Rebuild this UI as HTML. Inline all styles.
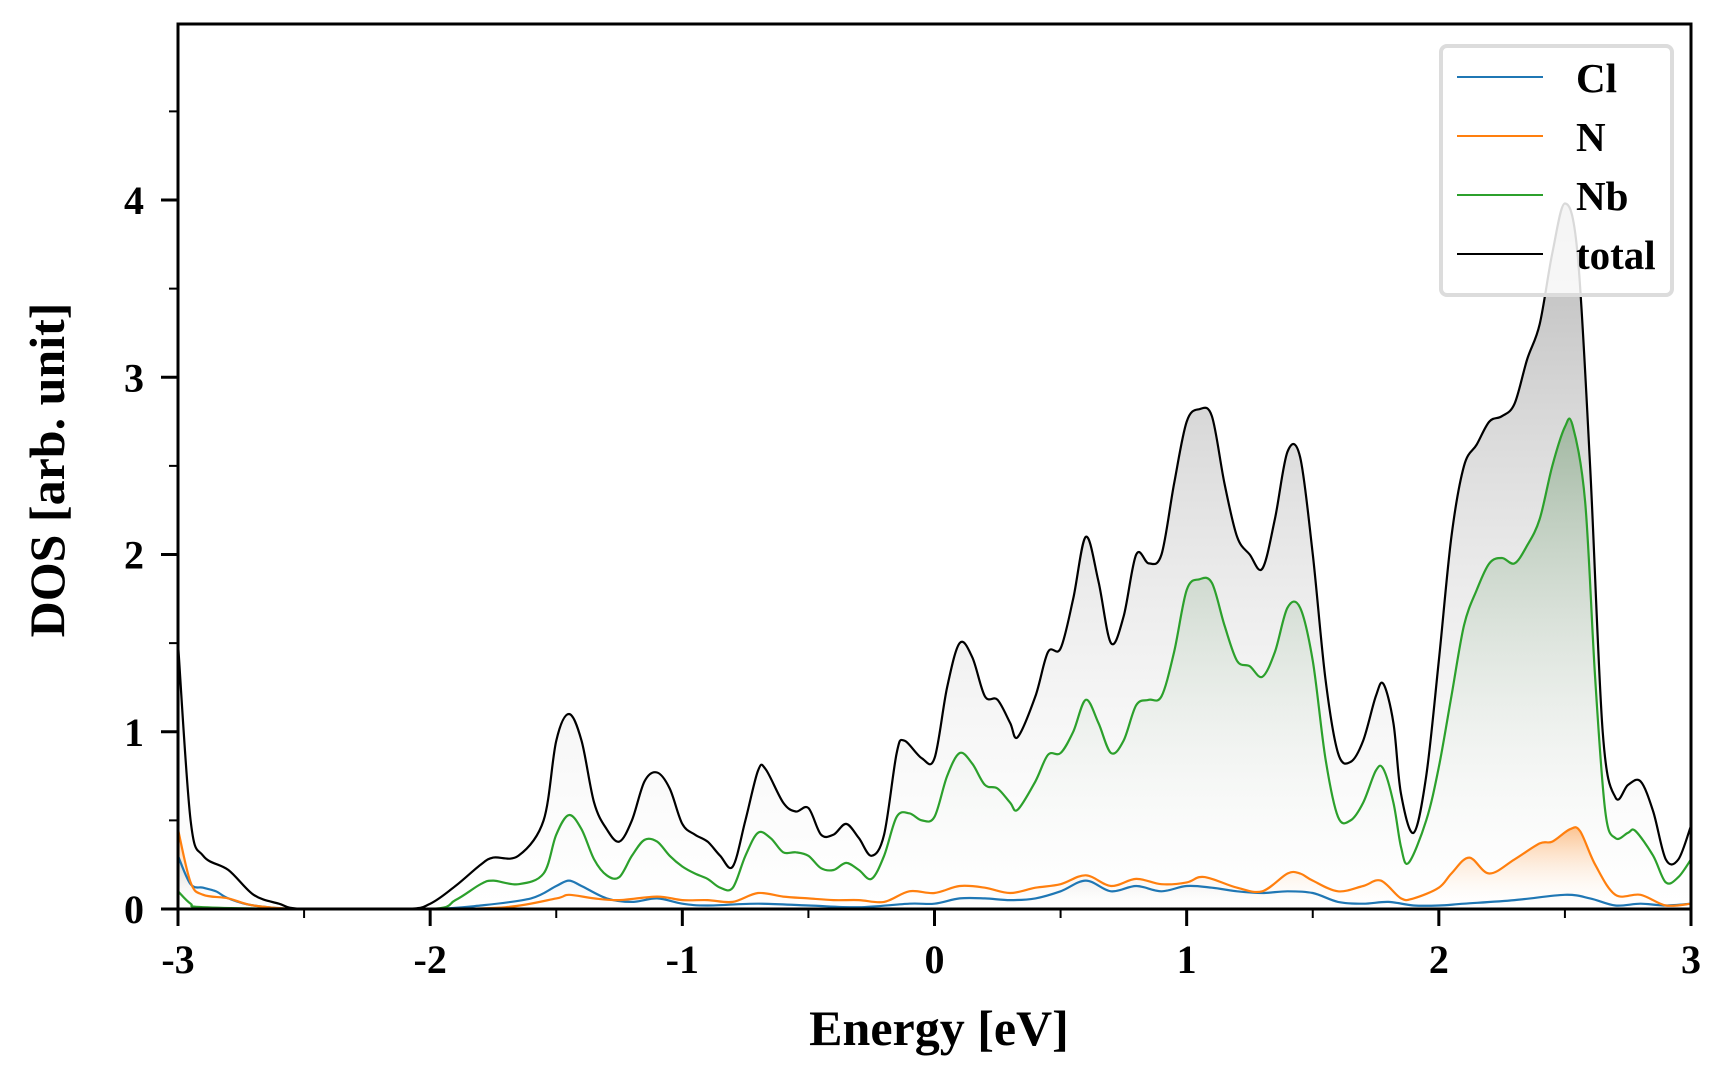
<!DOCTYPE html>
<html><head><meta charset="utf-8"><style>
html,body{margin:0;padding:0;background:#fff;}
svg text{font-family:"Liberation Serif",serif;font-weight:bold;fill:#000;}
</style></head><body>
<svg id="chart" width="1728" height="1080" xmlns="http://www.w3.org/2000/svg">
<defs>
<linearGradient id="gTot" x1="0" y1="0" x2="0" y2="1"><stop offset="0" stop-color="#a0a0a0" stop-opacity="0.75"/><stop offset="1" stop-color="#ffffff" stop-opacity="0.2"/></linearGradient>
<linearGradient id="gNb" x1="0" y1="0" x2="0" y2="1"><stop offset="0" stop-color="#3a7a3a" stop-opacity="0.35"/><stop offset="1" stop-color="#ffffff" stop-opacity="0"/></linearGradient>
<linearGradient id="gN" x1="0" y1="0" x2="0" y2="1"><stop offset="0" stop-color="#ff7f0e" stop-opacity="0.45"/><stop offset="1" stop-color="#ffffff" stop-opacity="0"/></linearGradient>
<linearGradient id="gCl" x1="0" y1="0" x2="0" y2="1"><stop offset="0" stop-color="#1f77b4" stop-opacity="0.2"/><stop offset="1" stop-color="#ffffff" stop-opacity="0"/></linearGradient>
<clipPath id="clip"><rect x="178" y="24" width="1514" height="886"/></clipPath>
</defs>
<g id="fills" clip-path="url(#clip)"></g>
<g id="lines" clip-path="url(#clip)"></g>
<g id="axes"></g>
<g id="legend">
<rect x="1441" y="46" width="231" height="249" rx="6" fill="#fff" fill-opacity="0.85" stroke="#dcdcdc" stroke-width="4"/>
<g><line x1="1457" y1="77" x2="1543" y2="77" stroke="#1f77b4" stroke-width="2"/><text x="1576" y="92" font-size="41">Cl</text></g>
<g><line x1="1457" y1="136" x2="1543" y2="136" stroke="#ff7f0e" stroke-width="2"/><text x="1576" y="151" font-size="41">N</text></g>
<g><line x1="1457" y1="195" x2="1543" y2="195" stroke="#2ca02c" stroke-width="2"/><text x="1576" y="210" font-size="41">Nb</text></g>
<g><line x1="1457" y1="254" x2="1543" y2="254" stroke="#000" stroke-width="2"/><text x="1576" y="269" font-size="41">total</text></g>
</g>
<text x="939" y="1045" font-size="50" text-anchor="middle">Energy [eV]</text>
<text transform="translate(64,470) rotate(-90)" font-size="50" text-anchor="middle">DOS [arb. unit]</text>
</svg>
<script>
const xTicks=[-3,-2,-1,0,1,2,3];
const xTickLabels=["-3","-2","-1","0","1","2","3"];
const yTicks=[0,1,2,3,4];
const yTickLabels=["0","1","2","3","4"];
const totalE=[-3,-2.95,-2.9,-2.8,-2.7,-2.6,-2.5,-2.1,-2.0,-1.9,-1.8,-1.75,-1.65,-1.55,-1.5,-1.45,-1.4,-1.35,-1.3,-1.25,-1.2,-1.15,-1.1,-1.05,-1.0,-0.95,-0.9,-0.85,-0.8,-0.75,-0.7,-0.67,-0.6,-0.55,-0.5,-0.45,-0.4,-0.35,-0.3,-0.25,-0.2,-0.15,-0.12,-0.05,0,0.05,0.1,0.15,0.2,0.25,0.3,0.33,0.4,0.45,0.5,0.55,0.6,0.65,0.7,0.75,0.8,0.85,0.9,0.95,1.0,1.05,1.1,1.15,1.2,1.25,1.3,1.35,1.4,1.45,1.5,1.55,1.6,1.65,1.7,1.75,1.78,1.82,1.85,1.9,1.95,2.0,2.05,2.1,2.15,2.2,2.25,2.3,2.35,2.4,2.45,2.5,2.55,2.6,2.65,2.7,2.75,2.8,2.85,2.9,2.95,3.0];
const totalV=[1.5,0.5,0.3,0.22,0.08,0.03,0,0,0.03,0.13,0.25,0.29,0.3,0.5,0.95,1.1,0.95,0.6,0.45,0.38,0.5,0.72,0.77,0.68,0.48,0.42,0.38,0.3,0.24,0.5,0.78,0.79,0.6,0.55,0.57,0.42,0.42,0.48,0.4,0.3,0.42,0.88,0.95,0.85,0.85,1.25,1.5,1.42,1.2,1.18,1.05,0.97,1.2,1.45,1.47,1.75,2.1,1.85,1.5,1.65,2.0,1.95,2.0,2.4,2.75,2.82,2.78,2.4,2.1,2.0,1.92,2.2,2.58,2.55,2.0,1.3,0.88,0.83,0.95,1.2,1.27,1.05,0.65,0.43,0.75,1.4,2.1,2.5,2.62,2.75,2.78,2.85,3.1,3.3,3.7,3.98,3.7,2.5,1.0,0.63,0.7,0.72,0.55,0.28,0.28,0.47];
const nbE=[-3,-2.95,-2.9,-2.5,-2.0,-1.9,-1.8,-1.75,-1.65,-1.55,-1.5,-1.45,-1.4,-1.35,-1.3,-1.25,-1.2,-1.15,-1.1,-1.05,-1.0,-0.95,-0.9,-0.85,-0.8,-0.75,-0.7,-0.65,-0.6,-0.55,-0.5,-0.45,-0.4,-0.35,-0.3,-0.25,-0.2,-0.15,-0.1,-0.05,0,0.05,0.1,0.15,0.2,0.25,0.3,0.33,0.4,0.45,0.5,0.55,0.6,0.65,0.7,0.75,0.8,0.85,0.9,0.95,1.0,1.05,1.1,1.15,1.2,1.25,1.3,1.35,1.4,1.45,1.5,1.55,1.6,1.65,1.7,1.75,1.78,1.82,1.85,1.88,1.95,2.0,2.05,2.1,2.15,2.2,2.25,2.3,2.35,2.4,2.45,2.5,2.53,2.58,2.62,2.66,2.7,2.75,2.78,2.85,2.9,2.95,3.0];
const nbV=[0.1,0.03,0.01,0,0,0.05,0.14,0.16,0.14,0.2,0.42,0.53,0.45,0.28,0.19,0.18,0.3,0.39,0.38,0.3,0.24,0.2,0.17,0.12,0.12,0.3,0.43,0.4,0.32,0.32,0.3,0.23,0.22,0.26,0.22,0.17,0.3,0.52,0.54,0.5,0.52,0.75,0.88,0.82,0.7,0.68,0.6,0.56,0.72,0.87,0.88,1.0,1.18,1.05,0.88,0.95,1.15,1.18,1.2,1.45,1.8,1.86,1.84,1.6,1.4,1.37,1.31,1.45,1.7,1.7,1.4,0.85,0.52,0.5,0.6,0.78,0.79,0.6,0.35,0.26,0.5,0.8,1.2,1.6,1.8,1.95,1.98,1.95,2.05,2.2,2.5,2.72,2.73,2.3,1.3,0.55,0.4,0.43,0.44,0.3,0.15,0.18,0.28];
const nE=[-3,-2.95,-2.9,-2.8,-2.7,-2.5,-2.0,-1.7,-1.5,-1.45,-1.35,-1.25,-1.1,-1.0,-0.9,-0.8,-0.7,-0.6,-0.5,-0.4,-0.3,-0.2,-0.1,0,0.1,0.2,0.3,0.4,0.5,0.6,0.7,0.8,0.9,1.0,1.05,1.1,1.2,1.3,1.4,1.45,1.5,1.6,1.7,1.77,1.85,1.9,2.0,2.05,2.12,2.2,2.3,2.4,2.45,2.52,2.56,2.62,2.7,2.8,2.9,3.0];
const nV=[0.45,0.15,0.08,0.06,0.02,0,0,0.01,0.06,0.08,0.06,0.05,0.07,0.05,0.05,0.04,0.09,0.07,0.06,0.05,0.05,0.04,0.1,0.09,0.13,0.12,0.09,0.12,0.14,0.19,0.13,0.17,0.14,0.15,0.18,0.17,0.12,0.1,0.2,0.2,0.16,0.1,0.13,0.16,0.06,0.06,0.12,0.2,0.29,0.2,0.28,0.37,0.38,0.45,0.44,0.25,0.08,0.08,0.02,0.03];
const clE=[-3,-2.95,-2.9,-2.85,-2.8,-2.7,-2.5,-2.0,-1.8,-1.6,-1.5,-1.45,-1.4,-1.3,-1.2,-1.1,-1.0,-0.9,-0.7,-0.5,-0.3,-0.1,0,0.1,0.2,0.3,0.4,0.5,0.6,0.7,0.8,0.9,1.0,1.1,1.2,1.3,1.4,1.5,1.6,1.7,1.8,1.9,2.0,2.1,2.3,2.5,2.6,2.7,2.8,2.9,3.0];
const clV=[0.3,0.14,0.12,0.1,0.06,0.02,0,0,0.02,0.06,0.13,0.16,0.13,0.06,0.04,0.06,0.03,0.02,0.03,0.02,0.01,0.03,0.03,0.06,0.06,0.05,0.06,0.1,0.16,0.1,0.13,0.1,0.13,0.12,0.1,0.09,0.1,0.09,0.04,0.03,0.04,0.02,0.02,0.03,0.05,0.08,0.06,0.02,0.03,0.02,0.03];

const X0=178,X1=1691,Y0=909,PPU=177.25;
const xs=e=>X0+(e+3)/6*(X1-X0);
const ys=v=>Y0-v*PPU;
const NS="http://www.w3.org/2000/svg";
function mk(tag,attrs,parent){const el=document.createElementNS(NS,tag);for(const k in attrs)el.setAttribute(k,attrs[k]);parent.appendChild(el);return el;}
function pathD(E,V){
  const p=E.map((e,i)=>[xs(e),ys(V[i])]);
  let d="M"+p[0][0].toFixed(1)+","+p[0][1].toFixed(1);
  for(let i=0;i<p.length-1;i++){
    const a=p[Math.max(i-1,0)],b=p[i],c=p[i+1],n=p[Math.min(i+2,p.length-1)];
    const t=1/6;
    const c1=[b[0]+(c[0]-a[0])*t,b[1]+(c[1]-a[1])*t];
    const c2=[c[0]-(n[0]-b[0])*t,c[1]-(n[1]-b[1])*t];
    d+=" C"+c1[0].toFixed(1)+","+Math.min(c1[1],Y0).toFixed(1)+" "+c2[0].toFixed(1)+","+Math.min(c2[1],Y0).toFixed(1)+" "+c[0].toFixed(1)+","+c[1].toFixed(1);
  }
  return d;
}
const fills=document.getElementById('fills'),lines=document.getElementById('lines'),axes=document.getElementById('axes');
const series=[["total",totalE,totalV,"#000","gTot"],["nb",nbE,nbV,"#2ca02c","gNb"],["n",nE,nV,"#ff7f0e","gN"],["cl",clE,clV,"#1f77b4","gCl"]];
series.forEach(s=>{
  const d=pathD(s[1],s[2]);
  const f=mk('path',{d:d+" L"+xs(s[1][s[1].length-1])+","+Y0+" L"+xs(s[1][0])+","+Y0+" Z",fill:"url(#"+s[4]+")",stroke:"none"},fills);
  
  
});
series.slice().reverse().forEach(s=>{
  const l=mk('path',{d:pathD(s[1],s[2]),fill:"none",stroke:s[3],"stroke-width":2.2},lines);
  
  
});
const fr=mk('rect',{x:X0,y:24,width:X1-X0,height:Y0-24,fill:"none",stroke:"#000","stroke-width":3},axes);


xTicks.forEach((t,i)=>{
  mk('line',{x1:xs(t),x2:xs(t),y1:Y0,y2:Y0+17,stroke:"#000","stroke-width":3},axes);
  const tx=mk('text',{x:xs(t),y:973,"font-size":40,"text-anchor":"middle"},axes);
  tx.textContent=xTickLabels[i];
  
  
  if(i<xTicks.length-1) mk('line',{x1:xs(t+0.5),x2:xs(t+0.5),y1:Y0,y2:Y0+9,stroke:"#000","stroke-width":2},axes);
});
yTicks.forEach((t,i)=>{
  mk('line',{x1:X0-17,x2:X0,y1:ys(t),y2:ys(t),stroke:"#000","stroke-width":3},axes);
  mk('line',{x1:X0-9,x2:X0,y1:ys(t+0.5),y2:ys(t+0.5),stroke:"#000","stroke-width":2},axes);
  const ty=mk('text',{x:144,y:ys(t)+14,"font-size":40,"text-anchor":"end"},axes);
  ty.textContent=yTickLabels[i];
  
  
});
</script>
</body></html>
